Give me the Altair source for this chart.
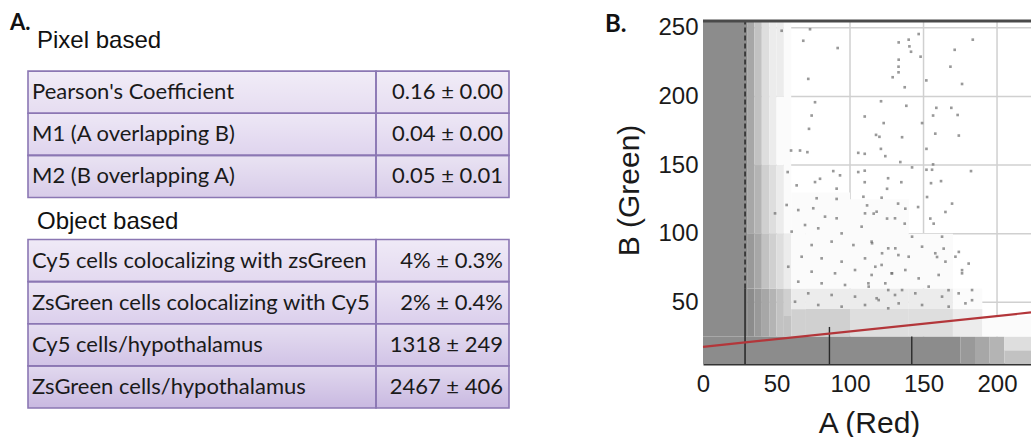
import altair as alt
import pandas as pd

# ---------------- Panel A: colocalization summary ----------------
section_titles = ["Pixel based", "Object based"]
pixel_metrics = ["Pearson's Coefficient", "M1 (A overlapping B)", "M2 (B overlapping A)"]
pixel_values = ["0.16 ± 0.00", "0.04 ± 0.00", "0.05 ± 0.01"]
object_metrics = [
    "Cy5 cells colocalizing with zsGreen",
    "ZsGreen cells colocalizing with Cy5",
    "Cy5 cells/hypothalamus",
    "ZsGreen cells/hypothalamus",
]
object_values = ["4% ± 0.3%", "2% ± 0.4%", "1318 ± 249", "2467 ± 406"]

# ---------------- Panel B: B (Green) vs A (Red) intensities ----------------
# dense pixel zones: (A from, A to, B from, B to, density level 1-9)
dense_zones = [
    (0, 175, 5, 25, 9), (175, 185, 5, 25, 8), (185, 195, 5, 25, 7), (195, 205, 5, 25, 6),
    (205, 223.1, 5, 15, 5), (205, 223.1, 15, 25, 3),
    (0, 30, 25, 255, 9),
    (30, 35, 25, 60, 9), (30, 35, 60, 100, 8), (30, 35, 100, 255, 7),
    (35, 40, 25, 60, 8), (35, 40, 60, 100, 7), (35, 40, 100, 150, 6), (35, 40, 150, 255, 5),
    (40, 45, 25, 60, 7), (40, 45, 60, 100, 5), (40, 45, 100, 150, 4), (40, 45, 150, 255, 3),
    (45, 50, 25, 60, 6), (45, 50, 60, 100, 4), (45, 50, 100, 150, 3), (45, 50, 150, 255, 2),
    (50, 55, 25, 60, 5), (50, 55, 60, 100, 3), (50, 55, 100, 150, 2), (50, 55, 150, 200, 1),
    (50, 55, 200, 255, 2),
    (55, 60, 25, 40, 5), (55, 60, 40, 60, 4), (55, 60, 60, 100, 2), (55, 60, 100, 255, 1),
    (60, 70, 25, 45, 4), (60, 70, 45, 60, 2), (60, 70, 60, 130, 1),
    (70, 100, 25, 45, 4), (70, 100, 45, 60, 2), (70, 100, 60, 130, 1),
    (100, 140, 25, 45, 3), (100, 140, 45, 60, 2), (100, 140, 60, 125, 1),
    (140, 170, 25, 45, 3), (140, 170, 45, 60, 2), (140, 170, 60, 100, 1),
    (170, 190, 25, 45, 2), (170, 190, 45, 60, 1),
    (190, 223.1, 25, 40, 1),
]

# isolated pixels outside the dense zones
sparse_a = [
    146.7, 139.9, 133.1, 140.4, 141.5, 148.0, 133.1, 133.0, 133.0, 129.0, 137.2, 183.5,
    171.2, 168.3, 176.2, 151.9, 121.1, 138.3, 110.0, 122.9, 158.7, 168.9, 156.5, 173.2,
    149.0, 158.0, 174.0, 117.7, 120.0, 135.4, 110.0, 121.0, 124.0, 152.0, 134.2, 142.2,
    152.0, 156.5, 155.8, 182.3, 110.0, 125.9, 134.9, 155.1, 161.9, 125.2, 110.0,
    91.6, 53.5, 72.8, 68.2, 71.6, 76.2, 73.9, 72.1, 59.9, 66.0, 71.0, 105.6, 93.2, 88.6,
    79.6, 76.2, 90.9, 105.6, 63.7, 57.6,
    111.6, 132.7, 137.6, 146.3, 152.4, 169.4, 164.9, 154.6, 156.9, 137.2, 125.2, 116.1,
    163.7, 174.0, 180.7, 176.2, 183.0, 167.0, 159.2,
    77.3, 90.9, 109.1, 121.5, 64.8, 56.9, 75.0, 49.0, 83.0, 90.9, 110.2, 118.1, 130.6,
    69.4, 78.4, 60.3, 94.3, 107.9, 87.5, 73.9, 102.3, 114.7, 126.0, 132.9, 67.1, 80.7,
    94.3, 110.2, 121.5, 58.0, 73.9, 89.8, 103.4, 114.7, 128.3, 64.8, 80.7, 96.6, 112.5,
    126.0, 71.6, 87.5, 103.4, 118.1, 130.6, 62.6, 78.4, 94.3, 110.2, 126.0,
    115.0, 121.8, 130.8, 139.9, 149.0, 158.0, 164.9, 171.7, 117.2, 128.6, 137.6, 146.7,
    160.3, 176.2, 112.7, 124.0, 135.4, 144.4, 153.5, 162.6, 173.9, 183.0, 119.5, 133.1,
    149.0, 167.1, 178.5, 142.2, 162.6,
]
sparse_b = [
    245.5, 241.4, 239.4, 236.5, 232.6, 229.0, 226.8, 221.7, 217.6, 214.0, 206.7, 241.4,
    234.0, 221.7, 209.1, 211.7, 196.5, 193.2, 185.4, 180.6, 191.7, 191.7, 186.1, 186.5,
    180.6, 172.9, 171.5, 172.0, 170.6, 170.3, 158.2, 161.8, 156.5, 161.8, 152.2, 148.3,
    146.6, 150.5, 146.6, 145.6, 145.9, 140.4, 137.5, 136.8, 138.3, 132.7, 137.5,
    235.3, 247.9, 249.0, 240.6, 212.8, 195.8, 186.1, 176.4, 160.6, 160.6, 159.4, 158.9,
    142.5, 145.6, 140.0, 137.6, 132.8, 144.9, 135.2, 144.9,
    120.6, 121.9, 118.2, 119.4, 126.7, 121.9, 115.8, 111.0, 107.3, 107.3, 111.0, 114.6,
    89.1, 86.7, 78.2, 73.4, 51.5, 58.8, 83.0,
    125.8, 125.3, 126.9, 126.2, 117.2, 120.9, 118.5, 114.8, 112.4, 111.2, 114.8, 116.0,
    111.2, 106.3, 103.9, 101.5, 100.2, 105.1, 94.2, 91.7, 91.7, 94.2, 89.3, 84.4, 83.2,
    82.0, 79.6, 82.0, 77.2, 75.9, 72.3, 71.1, 73.5, 69.9, 71.1, 65.0, 63.8, 62.6, 63.8,
    58.9, 56.5, 55.3, 54.1, 52.9, 55.3, 50.4, 48.0, 46.8, 48.0, 45.6,
    93.0, 85.7, 89.3, 83.2, 90.5, 85.7, 79.6, 83.2, 75.9, 71.1, 73.5, 67.4,
    69.9, 71.1, 61.4, 63.8, 58.9, 56.5, 61.4, 54.1, 56.5, 58.9, 51.6, 49.2,
    48.0, 46.8, 49.2, 97.8, 97.8,
]

# regression line end points
fit_a = [0, 223.1]
fit_b = [17.5, 42.6]

# threshold marker on A and short saturation streaks in the bottom band
threshold_a = 28.6
streak_a = [86, 142]
streak_top = [32, 25]

grid_a = [100, 150, 200]
grid_b = [50, 100, 150, 200, 250]
a_ticks = [0, 50, 100, 150, 200]
b_ticks = [50, 100, 150, 200, 250]
a_domain = [0, 223.1]
b_domain = [5, 255]

# ---------------- scatter panel ----------------
PLOT_W, PLOT_H = 328, 343
xs = alt.Scale(domain=a_domain, nice=False, zero=False)
ys = alt.Scale(domain=b_domain, nice=False, zero=False)

x_axis = alt.Axis(
    values=a_ticks, grid=False, ticks=False, tickSize=0, labelPadding=8,
    labelFont="Liberation Sans", labelFontSize=24, labelColor="#1a1a1a", labelFlush=False,
    domain=True, domainColor="#333333", domainWidth=2,
    title="A (Red)", titleFont="Liberation Sans", titleFontSize=30, titleFontWeight="normal",
    titleColor="#1a1a1a", titleX=166, titleY=59, titleAlign="center", titleBaseline="middle",
)
y_axis = alt.Axis(
    values=b_ticks, grid=False, ticks=False, tickSize=0, labelPadding=5,
    labelFont="Liberation Sans", labelFontSize=24, labelColor="#1a1a1a",
    domain=False,
    title="B (Green)", titleFont="Liberation Sans", titleFontSize=30, titleFontWeight="normal",
    titleColor="#1a1a1a", titleX=-74, titleY=169, titleAngle=270, titleAlign="center",
    titleBaseline="middle",
)


def X(field):
    return alt.X(field, type="quantitative", scale=xs, axis=x_axis)


def Y(field):
    return alt.Y(field, type="quantitative", scale=ys, axis=y_axis)


zones_df = pd.DataFrame(dense_zones, columns=["a0", "a1", "b0", "b1", "level"])
sparse_df = pd.DataFrame({"a": sparse_a, "b": sparse_b})
fit_df = pd.DataFrame({"a": fit_a, "b": fit_b})

grid_v = alt.Chart(pd.DataFrame({"a": grid_a})).mark_rule(
    color="#d0d0d0", strokeWidth=1.5).encode(x=X("a"))
grid_h = alt.Chart(pd.DataFrame({"b": grid_b})).mark_rule(
    color="#d0d0d0", strokeWidth=1.5).encode(y=Y("b"))

# each zone is opaque, so it hides the grid the way the dense pixels do
zones = alt.Chart(zones_df).mark_rect().encode(
    x=X("a0"), x2="a1", y=Y("b0"), y2="b1",
    color=alt.Color("level:Q", scale=alt.Scale(domain=[1, 9], range=["#fbfbfb", "#8c8c8c"]),
                    legend=None),
)

pixels = alt.Chart(sparse_df).mark_square(size=7, color="#6e6e6e", clip=True).encode(
    x=X("a"), y=Y("b"))

marker_df = pd.DataFrame({"a": [threshold_a, threshold_a], "b0": [60, b_domain[0]],
                          "b1": [b_domain[1], 60], "part": ["dash", "solid"]})
marker_dash = alt.Chart(marker_df).transform_filter(alt.datum.part == "dash").mark_rule(
    color="#1e1e1e", strokeWidth=1.4, strokeDash=[5, 3]).encode(x=X("a"), y=Y("b0"), y2="b1")
marker_solid = alt.Chart(marker_df).transform_filter(alt.datum.part == "solid").mark_rule(
    color="#1e1e1e", strokeWidth=1.4).encode(x=X("a"), y=Y("b0"), y2="b1")

streaks = alt.Chart(pd.DataFrame({"a": streak_a, "top": streak_top,
                                  "bottom": [b_domain[0]] * len(streak_a)})).mark_rule(
    color="#2a2a2a", strokeWidth=1.4).encode(x=X("a"), y=Y("bottom"), y2="top")

fit = alt.Chart(fit_df).mark_line(color="#b3363a", strokeWidth=2.2).encode(
    x=X("a"), y=Y("b"))

top_frame = alt.Chart(pd.DataFrame({"b": [b_domain[1]]})).mark_rule(
    color="#4a4a4a", strokeWidth=3).encode(y=Y("b"))

scatter = alt.layer(grid_v, grid_h, zones, pixels, marker_dash, marker_solid, streaks,
                    fit, top_frame)

# ---------------- table panel ----------------
row_keys = ["h1", "p1", "p2", "p3", "h2", "o1", "o2", "o3", "o4"]
data_keys = ["p1", "p2", "p3", "o1", "o2", "o3", "o4"]
row_shades = ["#e6ddf1", "#dfd4ee", "#d8cce9", "#e3d9f0", "#dbcfec", "#d1c3e6", "#c9b9e1"]

cells_df = pd.DataFrame({
    "key": data_keys,
    "metric": pixel_metrics + object_metrics,
    "value": pixel_values + object_values,
})
heads_df = pd.DataFrame({"key": ["h1", "h2"], "title": section_titles})

row_y = alt.Y("key:N", scale=alt.Scale(type="band", domain=row_keys, range=[8, 387],
                                       paddingInner=0, paddingOuter=0), axis=None)
shade = alt.Color("key:N", scale=alt.Scale(domain=data_keys, range=row_shades), legend=None)

LEFT, SPLIT, RIGHT = -675, -327, -194

fill_l = alt.Chart(cells_df).mark_rect().encode(
    y=row_y, x=alt.value(LEFT), x2=alt.value(SPLIT), color=shade)
fill_r = alt.Chart(cells_df).mark_rect().encode(
    y=row_y, x=alt.value(SPLIT), x2=alt.value(RIGHT), color=shade)
sheen = alt.Chart(cells_df).mark_rect(
    fill=alt.LinearGradient(
        gradient="linear",
        stops=[alt.GradientStop(color="rgba(255,255,255,0.45)", offset=0),
               alt.GradientStop(color="rgba(255,255,255,0)", offset=1)],
        x1=0, x2=0, y1=0, y2=1,
    )
).encode(y=row_y, x=alt.value(LEFT), x2=alt.value(RIGHT))
border_l = alt.Chart(cells_df).mark_rect(
    filled=False, stroke="#8b77b3", strokeWidth=1.6).encode(
    y=row_y, x=alt.value(LEFT), x2=alt.value(SPLIT))
border_r = alt.Chart(cells_df).mark_rect(
    filled=False, stroke="#8b77b3", strokeWidth=1.6).encode(
    y=row_y, x=alt.value(SPLIT), x2=alt.value(RIGHT))

metric_text = alt.Chart(cells_df).mark_text(
    align="left", baseline="middle", font="Lato", fontSize=22, color="#1a1a1a").encode(
    y=row_y, x=alt.value(LEFT + 4), text="metric:N")
value_text = alt.Chart(cells_df).mark_text(
    align="right", baseline="middle", font="Lato", fontSize=22, color="#1a1a1a").encode(
    y=row_y, x=alt.value(RIGHT - 6), text="value:N")

head_pixel = alt.Chart(heads_df).transform_filter(alt.datum.key == "h1").mark_text(
    align="left", baseline="middle", font="Liberation Sans", fontSize=24, color="#111111",
    dy=-9).encode(y=row_y, x=alt.value(-666), text="title:N")
head_object = alt.Chart(heads_df).transform_filter(alt.datum.key == "h2").mark_text(
    align="left", baseline="middle", font="Liberation Sans", fontSize=24, color="#111111",
    dy=3).encode(y=row_y, x=alt.value(-666), text="title:N")

panel_a = alt.Chart(pd.DataFrame({"t": ["A."]})).mark_text(
    align="left", baseline="middle", font="Lato", fontWeight="bold", fontSize=22,
    color="#111111").encode(x=alt.value(-693), y=alt.value(2), text="t:N")
panel_b = alt.Chart(pd.DataFrame({"t": ["B."]})).mark_text(
    align="left", baseline="middle", font="Lato", fontWeight="bold", fontSize=24,
    color="#111111").encode(x=alt.value(-98), y=alt.value(4), text="t:N")

tables = alt.layer(fill_l, fill_r, sheen, border_l, border_r, metric_text, value_text,
                   head_pixel, head_object, panel_a, panel_b)

chart = (
    alt.layer(scatter, tables)
    .resolve_scale(y="independent", color="independent")
    .properties(
        width=PLOT_W, height=PLOT_H,
        padding={"left": 703, "top": 21, "right": 0, "bottom": 73},
        autosize=alt.AutoSizeParams(type="none"),
        background="#ffffff",
    )
    .configure_view(strokeWidth=0)
)

chart.save("out.html", embed_options={"renderer": "svg", "actions": False})
